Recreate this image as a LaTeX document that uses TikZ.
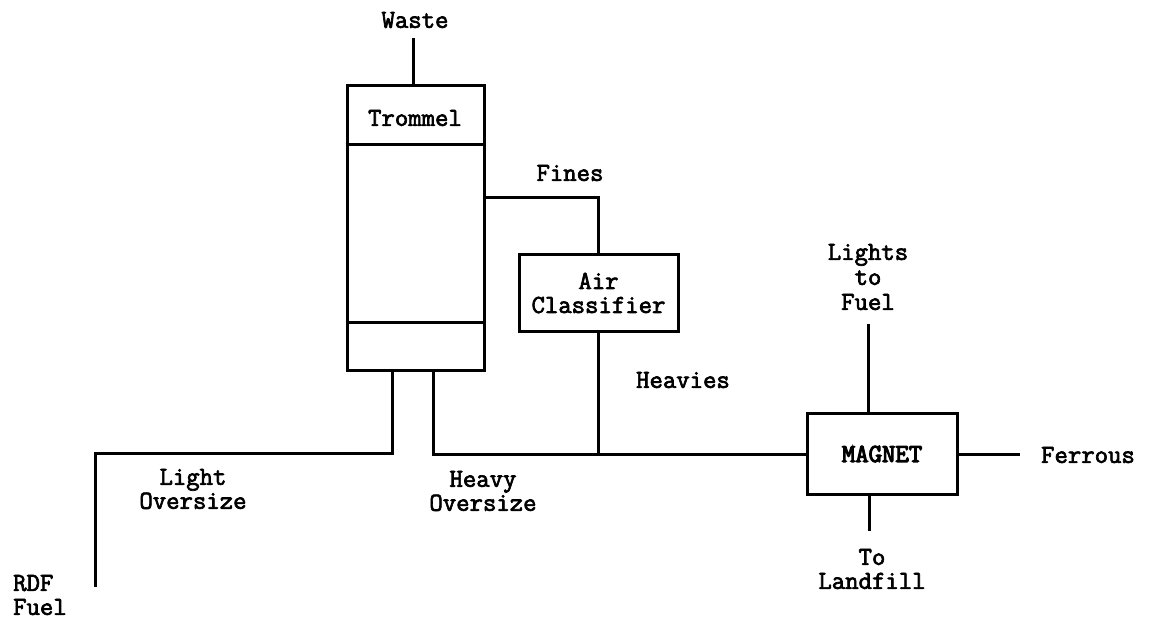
\documentclass[tikz,border=0pt]{standalone}
\usepackage{fontspec}
\newfontfamily\typew{Latin Modern Mono}[FakeBold=2.6]
\newfontfamily\typewbold{Latin Modern Mono}[FakeBold=4.2]
\usepackage{tikz}
\usetikzlibrary{positioning, calc}

\begin{document}
\begin{tikzpicture}[x=1pt, y=-1pt,
      unit/.style={rectangle, draw, line width=3pt, inner sep=0pt},
      lbl/.style={align=center, font=\fontsize{26}{24}\selectfont\typew, inner sep=0pt},
      flow/.style={line width=3pt},
    ]
    \useasboundingbox (0,0) rectangle (1153,620);
    % units
    \node[unit, minimum width=137pt, minimum height=284pt] (trommel) at (415.5,228) {};
    \node[lbl] (tromtxt) at (415,118) {Trommel};
    \node[unit, minimum width=159pt, minimum height=76pt, lbl] (airc) at (598.5,293) {Air\\Classifier};
    \node[unit, minimum width=150pt, minimum height=81pt, lbl, font=\fontsize{26}{24}\selectfont\typewbold] (magnet) at (882,454) {MAGNET};
    \draw[flow] (trommel.west |- 0,145) -- (trommel.east |- 0,145);
    \draw[flow] (trommel.west |- 0,322) -- (trommel.east |- 0,322);
    % streams
    \node[lbl] (waste) at (415,20) {Waste};
    \node[lbl] (fines) at (570,173) {Fines};
    \node[lbl] (heavies) at (683,380) {Heavies};
    \node[lbl] (ferrous) at (1088,455) {Ferrous};
    \node[lbl, font=\fontsize{26}{25}\selectfont\typew] (lights) at (868,277) {Lights\\to\\Fuel};
    \node[lbl] (landfill) at (872,569) {To\\Landfill};
    \node[lbl] (lightos) at (193,489) {Light\\Oversize};
    \node[lbl] (heavyos) at (483,491) {Heavy\\Oversize};
    \node[lbl, align=left, anchor=west] (rdf) at (13,595) {RDF\\Fuel};
    \coordinate (wastein) at (413,38);
    \coordinate (legL) at (392,370);
    \coordinate (legR) at (433,370);
    \coordinate (rdfout) at (95,587);
    \coordinate (lightsout) at (868,324);
    \coordinate (landout) at (869,531);
    \coordinate (ferrout) at (1020,454);
    \draw[flow] (wastein) -- (wastein |- trommel.north);
    \draw[flow] (trommel.east |- 0,198) -| (airc.north);
    \draw[flow] (airc.south) -- (airc.south |- magnet.west);
    \draw[flow] (legL) -- ++(0,83) -| (rdfout);
    \draw[flow] (legR) |- (magnet.west);
    \draw[flow] (lightsout |- magnet.north) -- (lightsout);
    \draw[flow] (landout |- magnet.south) -- (landout);
    \draw[flow] (magnet.east) -- (ferrout);
  \end{tikzpicture}
\end{document}
